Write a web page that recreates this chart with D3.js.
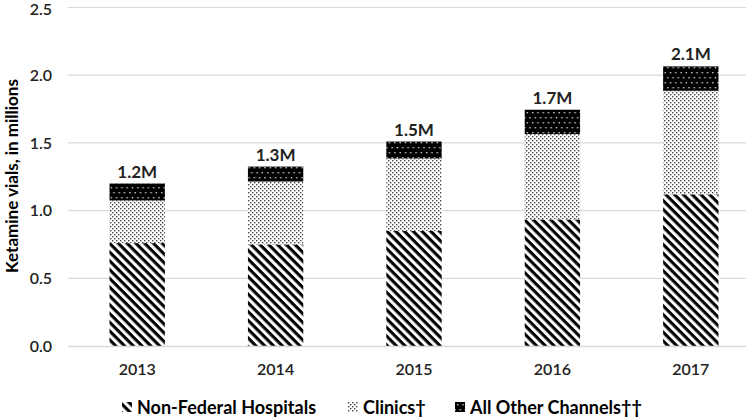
<!DOCTYPE html>
<html><head><meta charset="utf-8">
<script src="https://cdn.jsdelivr.net/npm/d3@7"></script>
<style>body{margin:0;background:#fff}svg{display:block}</style>
</head><body>
<script>
const years = ["2013","2014","2015","2016","2017"];
const hospitals = [0.76, 0.75, 0.85, 0.935, 1.12];
const clinics = [0.315, 0.465, 0.535, 0.63, 0.765];
const other = [0.125, 0.11, 0.125, 0.18, 0.18];
const totalLabels = ["1.2M","1.3M","1.5M","1.7M","2.1M"];
const yTicks = [0, 0.5, 1.0, 1.5, 2.0, 2.5];
const seriesNames = ["Non-Federal Hospitals", "Clinics\u2020", "All Other Channels\u2020\u2020"];

const W = 749, H = 418;
const svg = d3.select("body").append("svg").attr("width", W).attr("height", H);
const font = "Lato, 'Open Sans', sans-serif";

const defs = svg.append("defs");
// diagonal stripes
const p1 = defs.append("pattern").attr("id","pHosp").attr("patternUnits","userSpaceOnUse")
  .attr("width",6.2).attr("height",6.2).attr("patternTransform","rotate(45)");
p1.append("rect").attr("width",6.2).attr("height",6.2).attr("fill","#fff");
p1.append("rect").attr("x",0).attr("y",0).attr("width",6.2).attr("height",3.1).attr("fill","#000");
// clinics stipple
const p2 = defs.append("pattern").attr("id","pClin").attr("patternUnits","userSpaceOnUse")
  .attr("width",4).attr("height",4);
p2.append("rect").attr("width",4).attr("height",4).attr("fill","#fff");
p2.append("rect").attr("x",0).attr("y",0).attr("width",1.4).attr("height",1.4).attr("fill","#444");
p2.append("rect").attr("x",2).attr("y",2).attr("width",1.4).attr("height",1.4).attr("fill","#444");
// other: black with white dots
const p3 = defs.append("pattern").attr("id","pOther").attr("patternUnits","userSpaceOnUse")
  .attr("width",10.6).attr("height",10);
p3.append("rect").attr("width",10.6).attr("height",10).attr("fill","#000");
[[2,2],[7.3,2],[4.6,7],[9.9,7],[-0.7,7]].forEach(([a,b])=>
  p3.append("rect").attr("x",a).attr("y",b).attr("width",1.4).attr("height",1.4).attr("fill","#ccc"));
const fills = ["url(#pHosp)","url(#pClin)","url(#pOther)"];

const x = d3.scaleBand().domain(years).range([68, 760]).paddingInner(0.6).paddingOuter(0.3);
const y = d3.scaleLinear().domain([0, 2.5]).range([346, 7.5]);

// gridlines
svg.append("g").selectAll("line").data(yTicks.slice(1)).join("line")
  .attr("x1",68).attr("x2",746).attr("y1",d=>y(d)).attr("y2",d=>y(d))
  .attr("stroke","#d9d9d9").attr("stroke-width",1.2);

// y axis labels
const yAxis = svg.append("g").attr("transform","translate(60,0)")
  .call(d3.axisLeft(y).tickValues(yTicks).tickFormat(d3.format(".1f")).tickSize(0).tickPadding(8));
yAxis.select(".domain").remove();
yAxis.selectAll("text").attr("font-family",font).attr("font-size",16).attr("font-weight",600).attr("fill","#222");
yAxis.selectAll(".tick").filter(d=>d===2.5).select("text").attr("dy","0.42em");

// stacked bars
const rows = years.map((yr,i)=>({year:yr, h:hospitals[i], c:clinics[i], o:other[i]}));
const stack = d3.stack().keys(["h","c","o"])(rows);
svg.append("g").selectAll("g").data(stack).join("g")
  .attr("fill",(d,i)=>fills[i])
  .selectAll("rect").data(d=>d).join("rect")
  .attr("x",d=>x(d.data.year)).attr("width",x.bandwidth())
  .attr("y",d=>y(d[1])).attr("height",d=>y(d[0])-y(d[1]));

// x axis
const xAxis = svg.append("g").attr("transform","translate(0,346)")
  .call(d3.axisBottom(x).tickSize(0).tickPadding(18));
xAxis.select(".domain").attr("d","M68,0.5H746").attr("stroke","#d9d9d9").attr("stroke-width",1.5);
xAxis.selectAll("text").attr("font-family",font).attr("font-size",16).attr("font-weight",600).attr("fill","#222");

// total labels
svg.append("g").selectAll("text").data(rows).join("text")
  .attr("x",d=>x(d.year)+x.bandwidth()/2)
  .attr("y",(d,i)=>y(hospitals[i]+clinics[i]+other[i])-6)
  .attr("text-anchor","middle").attr("font-family",font).attr("font-size",17).attr("font-weight",700)
  .attr("fill","#222").text((d,i)=>totalLabels[i]);

// y title
svg.append("text").attr("transform","translate(18,176) rotate(-90)")
  .attr("text-anchor","middle").attr("font-family",font).attr("font-size",17).attr("font-weight",700)
  .attr("fill","#000").text("Ketamine vials, in millions");

// legend
const legX = [122, 348, 455];
const leg = svg.append("g").selectAll("g").data(seriesNames).join("g")
  .attr("transform",(d,i)=>`translate(${legX[i]},402)`);
leg.append("rect").attr("width",10).attr("height",10).attr("fill",(d,i)=>fills[i]);
leg.append("text").attr("x",15).attr("y",11.5).attr("font-family",font).attr("font-size",18).attr("font-weight",700)
  .attr("fill","#000").text(d=>d);
</script>
</body></html>
